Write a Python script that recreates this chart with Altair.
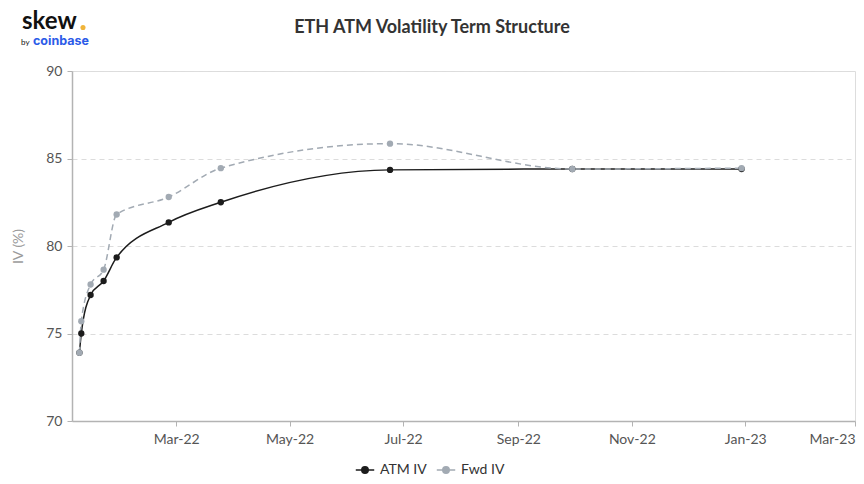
import altair as alt
import pandas as pd

# ---- data ----
expiries = ["2022-01-08", "2022-01-09", "2022-01-14", "2022-01-21", "2022-01-28",
            "2022-02-25", "2022-03-25", "2022-06-24", "2022-09-30", "2022-12-30"]
atm_iv = [73.9, 75.0, 77.2, 78.0, 79.35, 81.35, 82.5, 84.35, 84.4, 84.4]
fwd_iv = [73.9, 75.7, 77.8, 78.65, 81.8, 82.8, 84.45, 85.85, 84.4, 84.45]
series_names = ["ATM IV", "Fwd IV"]
series_colors = ["#1c1c1c", "#a2aab3"]
y_ticks = [70, 75, 80, 85, 90]
chart_title = "ETH ATM Volatility Term Structure"

rows = []
for d, a, f in zip(expiries, atm_iv, fwd_iv):
    rows.append({"date": d + "T00:00:00Z", "iv": a, "series": "ATM IV"})
    rows.append({"date": d + "T00:00:00Z", "iv": f, "series": "Fwd IV"})
df = pd.DataFrame(rows)

FONT = "Lato"

def dt(y, m, d):
    return alt.DateTime(year=y, month=m, date=d, utc=True)

x_ticks = [dt(2022, 3, 1), dt(2022, 5, 1), dt(2022, 7, 1), dt(2022, 9, 1),
           dt(2022, 11, 1), dt(2023, 1, 1), dt(2023, 3, 1)]

x_enc = alt.X(
    "date:T",
    scale=alt.Scale(type="utc", domain=[dt(2022, 1, 4), dt(2023, 3, 1)], nice=False),
    axis=alt.Axis(values=x_ticks, labelExpr="utcFormat(datum.value, '%b-%y')", title=None,
                  grid=False, labelFlush=True, tickSize=5, labelPadding=6,
                  labelFontSize=14, labelColor="#555555", labelFont=FONT,
                  domainColor="#b3b3b3", domainWidth=1.5, tickColor="#b3b3b3"),
)
y_enc = alt.Y(
    "iv:Q",
    scale=alt.Scale(domain=[70, 90], nice=False, zero=False),
    axis=alt.Axis(values=y_ticks, title="IV (%)", titleColor="#9a9a9a",
                  titleFontWeight="normal", titleFontSize=14, titleFont=FONT,
                  titlePadding=20,
                  grid=True, gridDash=[5, 4], gridColor="#dcdcdc",
                  tickSize=5, labelPadding=5, labelFontSize=14,
                  labelColor="#555555", labelFont=FONT,
                  domainColor="#b3b3b3", domainWidth=1.5, tickColor="#b3b3b3"),
)

legend = alt.Legend(
    title=None, orient="none", direction="horizontal", legendX=283, legendY=389,
    symbolType="M-1,0H1M-0.35,0a0.35,0.35 0 1,0 0.7,0a0.35,0.35 0 1,0 -0.7,0",
    symbolSize=340, symbolStrokeWidth=1.5, labelFontSize=14, labelFont=FONT,
    labelColor="#333333", labelOffset=5, columnPadding=6,
)
stroke_enc = alt.Stroke("series:N", scale=alt.Scale(domain=series_names, range=series_colors),
                        legend=legend)

base = alt.Chart(df)

line_atm = base.transform_filter(alt.datum.series == "ATM IV").mark_line(
    interpolate="monotone", strokeWidth=1.5).encode(x=x_enc, y=y_enc, stroke=stroke_enc)
line_fwd = base.transform_filter(alt.datum.series == "Fwd IV").mark_line(
    interpolate="monotone", strokeWidth=1.5, strokeDash=[6, 4]).encode(
    x=x_enc, y=y_enc, stroke=stroke_enc)

points = base.mark_point(filled=True, opacity=1, size=40, shape="circle").encode(
    x=x_enc, y=y_enc,
    fill=alt.Fill("series:N", scale=alt.Scale(domain=series_names, range=series_colors),
                  legend=legend),
)

one = alt.Data(values=[{}])
title_mark = alt.Chart(one).mark_text(
    text=chart_title, font=FONT, fontSize=18, fontWeight="bold", color="#333333",
    align="center", baseline="alphabetic").encode(x=alt.value(360), y=alt.value(-38))
logo_skew = alt.Chart(one).mark_text(
    text="skew", font=FONT, fontSize=24, fontWeight="bold", color="#111111",
    align="left", baseline="alphabetic").encode(x=alt.value(-50), y=alt.value(-42))
logo_dot = alt.Chart(one).mark_point(filled=True, opacity=1, size=26, color="#f0b43a").encode(
    x=alt.value(11), y=alt.value(-43.5))
logo_by = alt.Chart(one).mark_text(
    text="by", font=FONT, fontSize=8, color="#111111",
    align="left", baseline="alphabetic").encode(x=alt.value(-51), y=alt.value(-26))
logo_cb = alt.Chart(one).mark_text(
    text="coinbase", font="Inter", fontSize=12.5, fontWeight="bold", color="#2c5be8",
    align="left", baseline="alphabetic").encode(x=alt.value(-39), y=alt.value(-26))

chart = alt.layer(line_atm, line_fwd, points, title_mark, logo_skew, logo_dot,
                  logo_by, logo_cb).properties(
    width=783, height=350,
    autosize=alt.AutoSizeParams(type="none"),
    padding={"left": 64, "top": 63, "right": 1, "bottom": 55},
).configure_view(stroke=None).configure(background="white")

chart.save("out.html", embed_options={"renderer": "svg", "actions": False})
